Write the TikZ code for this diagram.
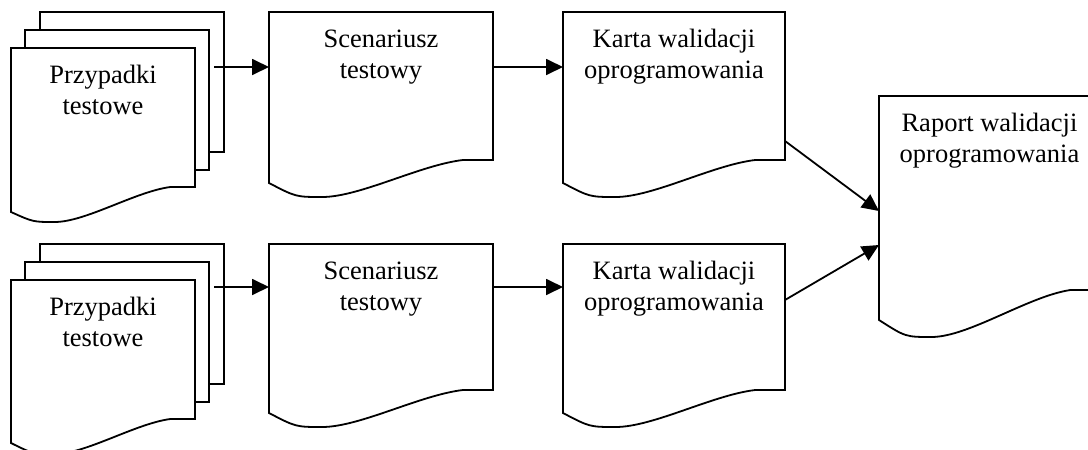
\documentclass[tikz,border=0pt]{standalone}
\usepackage{fontspec}
\setmainfont{Liberation Serif}
\usetikzlibrary{arrows.meta}
\tikzset{
  docline/.style={draw=black, line width=1.8pt, fill=white, line join=miter},
  boxarea/.style={inner sep=0pt, outer sep=0pt, draw=none, anchor=north west},
  lbl/.style={align=center, inner sep=0pt, font=\fontsize{26.5}{31.7}\selectfont, anchor=base},
  flow/.style={line width=1.8pt, -{Triangle[length=17pt,width=16pt]}},
}
% Document symbol with a wavy bottom edge.
% #1 name, #2 left, #3 top, #4 width, #5 height at the right edge,
% #6 drop of the left corner, #7 deepest drop of the wave, #8 label
% (the label's base anchor sits on its last line, one line below the first)
\newcommand\docbox[8]{%
  \draw[docline] (#2,#3) -- ({#2+#4},#3) -- ({#2+#4},{#3+#5}) -- ({#2+0.866*#4},{#3+#5})
    .. controls ({#2+0.674*#4},{#3+#5+0.135*#7}) and ({#2+0.406*#4},{#3+#5+#7}) .. ({#2+0.237*#4},{#3+#5+#7})
    .. controls ({#2+0.12*#4},{#3+#5+#7}) .. (#2,{#3+#5+#6}) -- cycle;
  \node[boxarea, minimum width=#4pt, minimum height=#5pt] (#1) at (#2,#3) {};
  \node[lbl] (#1-text) at ({#2+0.5*#4},{#3+66.7}) {#8};
}
\begin{document}
\begin{tikzpicture}[x=1pt, y=-1pt]
  \useasboundingbox (0,0) rectangle (1088,450);
  \clip (0,0) rectangle (1088,450);

  % upper chain
  \docbox{pp1a}{40}{12}{184}{140}{25}{35}{}
  \docbox{pp1b}{25}{30}{184}{140}{25}{35}{}
  \docbox{pp1}{11}{48}{184}{139}{25}{35}{Przypadki\\testowe}
  \docbox{sc1}{269}{12}{224}{148}{23}{37}{Scenariusz\\testowy}
  \docbox{kt1}{563}{12}{222}{148}{23}{37}{Karta walidacji\\oprogramowania}

  % lower chain
  \docbox{pp2a}{40}{244}{184}{140}{25}{35}{}
  \docbox{pp2b}{25}{262}{184}{140}{25}{35}{}
  \docbox{pp2}{11}{280}{184}{139}{24}{35}{Przypadki\\testowe}
  \docbox{sc2}{269}{244}{224}{146}{23}{37}{Scenariusz\\testowy}
  \docbox{kt2}{563}{244}{222}{146}{23}{37}{Karta walidacji\\oprogramowania}

  % final report
  \docbox{rp}{879}{96}{221}{194}{30}{47}{Raport walidacji\\oprogramowania}

  % connectors
  \coordinate (pp1-out) at (214,67);
  \coordinate (pp2-out) at (214,287);
  \draw[flow] (pp1-out) -- ([yshift=-55pt]sc1.north west);
  \draw[flow] ([yshift=-55pt]sc1.north east) -- ([yshift=-55pt]kt1.north west);
  \draw[flow] (pp2-out) -- ([yshift=-43pt]sc2.north west);
  \draw[flow] ([yshift=-43pt]sc2.north east) -- ([yshift=-43pt]kt2.north west);
  \draw[flow] ([yshift=-129pt]kt1.north east) -- ([yshift=-115pt]rp.north west);
  \draw[flow] ([yshift=-56pt]kt2.north east) -- ([yshift=-149pt]rp.north west);
\end{tikzpicture}
\end{document}
